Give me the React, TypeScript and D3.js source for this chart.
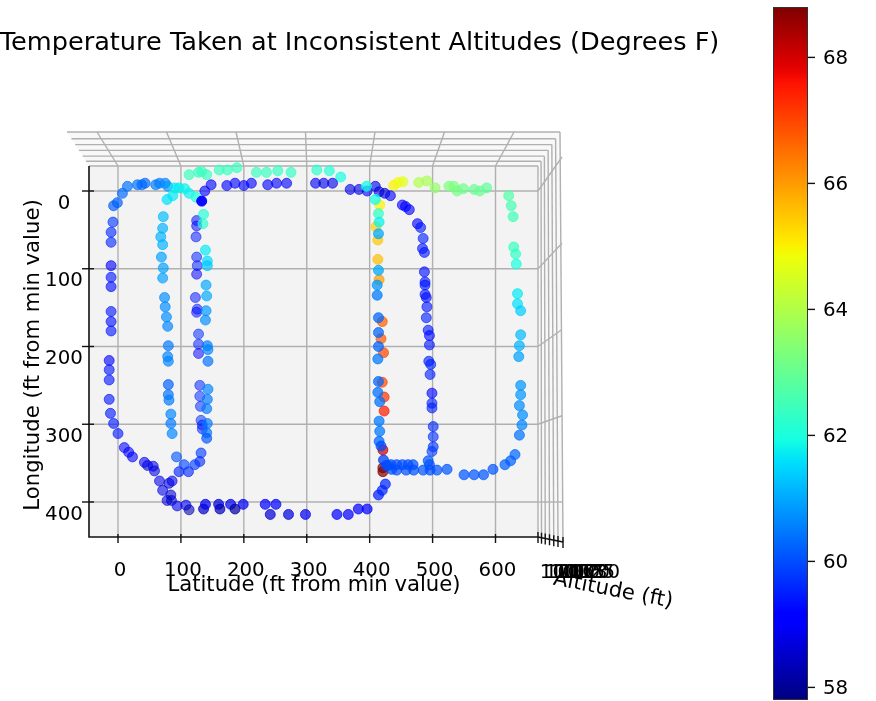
import React from 'react';
import * as d3 from 'd3';

// [latitude ft, longitude ft, temperature F], each leg flown at roughly one altitude
const leftArc = [[-7,19,60.2],[-1,15,60.2],[7,3,60.3],[15,-6,60.4],[31,-8,60.4],[38,-8,60.3],[43,-10,60.3],[60,-8,60.5],[66,-10,60.5],[75,-10,60.6],[79,-6,60.8]];
const cyanBend = [[87,6,61.7],[78,11,61.6],[90,-4,61.7],[97,-4,61.7],[106,-3,61.8],[113,3,61.8],[124,8,62]];
const greenTop = [[113,-21,62.4],[128,-24,62.4],[133,-25,62.4],[141,-21,62.4],[161,-27,62.4],[174,-27,62.4],[189,-30,62.4],[220,-24,62.4],[236,-24,62.4],[254,-26,62.3],[275,-24,62.3],[316,-27,62.2],[336,-26,62.1],[354,-18,61.9]];
const darkTop = [[138,0,59.2],[148,-8,59.2],[173,-7,59.2],[186,-10,59.1],[200,-7,59.1],[212,-10,59],[238,-8,59],[252,-10,59],[268,-10,59],[314,-10,58.9],[327,-10,58.8],[341,-10,58.8],[369,-2,58.8],[383,-2,58.8],[396,0,59],[409,-6,58.8],[415,1,58.7],[424,3,58.6],[433,6,59]];
const bendDown = [[452,18,59.1],[457,20,59],[463,24,59.1],[476,42,59],[481,47,59.4],[485,61,59.5],[484,74,59.4],[487,79,59.4],[487,104,59.3],[488,117,59.4],[488,121,59.4],[488,133,59.4],[490,137,59.3],[491,149,59.4],[490,163,59.5],[493,179,59.4],[495,186,59.3]];
const innerDark = [[495,198,59.4],[494,219,59.5],[497,223,59.5],[496,236,59.5],[499,260,59.2],[499,273,59.5],[499,279,59.5],[501,303,59.6],[501,316,59.7],[501,329,59.7],[499,335,59.8]];
const yellowTop = [[438,-7,65],[445,-11,64.9],[453,-12,64.7],[478,-11,64],[491,-13,63.9],[504,-4,63.6],[526,-6,63.3],[534,-6,63.3],[539,0,63.2],[549,-3,63.1],[566,-2,63],[575,0,63],[586,-4,62.9]];
const rightDown = [[621,6,62.7],[625,19,62.6],[628,33,62.5],[629,72,62.4],[632,81,62.3],[633,94,62],[635,132,61.7],[635,145,61.6],[640,154,61.4],[640,185,61.2],[638,199,61.1],[637,213,60.9],[640,250,60.8],[640,262,60.8],[638,276,60.7],[643,288,60.7],[642,301,60.6],[638,314,60.4]];
const rightBottom = [[631,339,60.3],[624,347,60.2],[615,352,60.2],[596,358,60.1],[581,365,60.1],[566,365,60.1],[550,365,60.1],[523,358,60.1],[507,359,60.1],[496,359,60],[495,352,60],[493,347,60.1],[485,359,60.1],[470,359,60],[469,352,60],[461,352,60],[458,359,60],[452,352,60],[443,352,60],[443,359,60],[435,358,60],[434,352,60],[429,353,60],[426,353,60]];
const leftColumn = [[-8,40,59.8],[-11,53,59.6],[-11,66,59.6],[-11,96,59],[-11,111,59.4],[-11,123,59.3],[-11,155,59.4],[-11,168,59.3],[-11,180,59.4],[-14,218,59],[-14,230,59.4],[-14,243,59.4],[-14,268,59.4],[-12,286,59.4],[-7,299,59.4],[0,312,59.4]];
const lowerLeft = [[10,330,59.2],[17,336,59],[23,342,59],[42,349,59],[47,353,58.7],[56,354,58.8],[58,360,58.7],[66,373,58.8],[71,385,58.8],[81,376,58.6],[86,373,58.9],[84,391,58.6],[78,398,58.7],[85,398,58.5],[94,405,58.9],[108,404,58.9],[113,410,58.3]];
const bottomRow = [[136,409,58.4],[139,403,58.9],[160,403,58.7],[162,409,58.3],[179,403,58.9],[186,409,58.1],[199,403,58.9],[234,403,59],[251,403,59],[242,416,58.6],[271,416,58.7],[298,416,58.9],[348,416,59],[366,416,59],[382,409,59.2],[396,409,59.2],[414,391,59.5],[420,385,59.6],[425,377,59.6]];
const columnTwo = [[72,33,61.2],[71,48,61.1],[68,59,61.1],[71,69,61.1],[69,85,60.9],[72,99,60.9],[71,112,60.9],[74,137,60.7],[75,149,60.7],[77,162,60.7],[79,174,60.6],[80,199,60.5],[79,213,60.6],[80,219,60.6],[80,249,60.2],[80,262,60.4],[81,269,60.5],[84,287,60.6],[84,299,60.5],[86,312,60.6]];
const columnThree = [[125,38,59.3],[125,45,59.2],[124,59,59.4],[125,85,59.5],[126,96,59.5],[125,107,59],[123,137,59.4],[126,152,59.4],[125,156,59.3],[128,184,59.6],[128,197,59.5],[128,209,59.2],[130,250,59.5],[130,264,59.6],[131,277,59.6],[132,295,59.7],[134,301,59.4],[134,306,59.5]];
const columnFour = [[136,30,62.1],[135,42,62.2],[139,76,61.7],[142,90,61.5],[142,96,61.3],[140,121,61],[141,135,61],[140,154,60.8],[139,166,60.7],[142,199,60.5],[143,204,60.6],[143,219,60.4],[143,255,60.6],[142,268,60.5],[141,280,60.5],[142,299,60.5],[141,311,60.4],[141,318,60.1]];
const uTurn = [[132,337,59.8],[130,348,59.6],[122,352,59.8],[112,361,59.6],[97,361,59.5],[105,352,59.9],[93,342,60.1]];
const turnMark = [[133,13,59.1]];
const centerWarm = [[416,18,65],[410,46,65.4],[413,63,65.5],[413,88,65.6],[415,114,66],[420,168,66.7],[418,190,66.8],[422,208,67],[420,246,67],[423,265,67.2],[423,283,67.5],[421,333,68.1],[421,356,68.7],[421,361,68.8]];
const centerCool = [[395,-6,61.9],[409,11,61.9],[414,29,62.4],[415,40,61.8],[414,55,61],[414,102,61],[412,121,60.8],[412,134,60.5],[414,163,60.3],[414,182,60.3],[414,200,60.3],[413,216,60.5],[414,245,60.3],[413,259,60.4],[416,271,60.4],[415,296,60.5],[416,309,60.5],[415,322,60.3],[418,328,60],[422,346,59.8]];

const legs = [greenTop, yellowTop, rightDown, leftColumn, columnThree, lowerLeft, darkTop, bendDown, centerWarm, centerCool, columnFour, columnTwo, innerDark, rightBottom, leftArc, cyanBend, uTurn, bottomRow, turnMark];
const legAltitudes = [1012, 1012, 1014, 1008, 1002, 1006, 1008, 1008, 1014, 1016, 1012, 1012, 1008, 1014, 1012, 1014, 1008, 1014, 1030];

const latTicks = [0, 100, 200, 300, 400, 500, 600];
const lonTicks = [0, 100, 200, 300, 400];
const altTicks = [1000, 1005, 1010, 1015, 1020, 1025, 1030];
const tempTicks = [58, 60, 62, 64, 66, 68];

const jetR = d3.scaleLinear([0, 0.35, 0.66, 0.89, 1], [0, 0, 1, 1, 0.5]).clamp(true);
const jetG = d3.scaleLinear([0, 0.125, 0.375, 0.64, 0.91, 1], [0, 0, 1, 1, 0, 0]).clamp(true);
const jetB = d3.scaleLinear([0, 0.11, 0.34, 0.65, 1], [0.5, 1, 1, 0, 0]).clamp(true);
const jet = (t: number) => d3.rgb(jetR(t) * 255, jetG(t) * 255, jetB(t) * 255).formatHex();

const norm = d3.scaleLinear([57.8, 68.8], [0, 1]).clamp(true);

const x = d3.scaleLinear([0, 600], [118, 495.5]);
const y = d3.scaleLinear([0, 400], [191, 502]);
// where an x tick lands on the far edge of the top wall
const xBack = d3.scaleLinear([0, 600], [97, 514]);
const yBack = d3.scaleLinear([0, 400], [157, 502]);
// one altitude step across the top and right walls
const wallT = d3.scaleLinear([1000, 1005, 1010, 1015, 1020, 1025, 1030], [0, 0.14, 0.29, 0.46, 0.63, 0.8, 1]);
const alpha = d3.scaleLinear([1000, 1030], [0.5, 0.95]);

const left = 89, right = 538, top = 166, bottom = 537;
const farLeft = 67, farRight = 560, farTop = 132, farBottom = 542;
const mix = (a: number, b: number, t: number) => a + (b - a) * t;

const grid = '#b0b0b0';
const font = 'DejaVu Sans';
const size = 19.8;
const labelSize = 21.2;

export default function App() {
  const stops = d3.range(0, 1.001, 1 / 64);
  return (
    <svg width={876} height={701} style={{ position: 'absolute', left: 0, top: 0, background: '#fff', filter: 'blur(0.4px)' }} fontFamily={font} fill="#000">
      <defs>
        <linearGradient id="jet" x1="0" y1="1" x2="0" y2="0">
          {stops.map(t => <stop key={t} offset={t} stopColor={jet(t)} />)}
        </linearGradient>
      </defs>

      <text x={359.5} y={50} fontSize={25.6} textAnchor="middle">Temperature Taken at Inconsistent Altitudes (Degrees F)</text>

      {/* panes */}
      <rect x={left} y={top} width={right - left} height={bottom - top} fill="#f3f3f3" />
      <polygon points={`${left},${top} ${farLeft},${farTop} ${farRight},${farTop} ${right},${top}`} fill="#f8f8f8" />
      <polygon points={`${right},${top} ${farRight},${farTop} ${farRight + 3},${farBottom} ${right},${bottom}`} fill="#f8f8f8" />

      {/* walls, altitude grid */}
      {altTicks.map(a => {
        const t = wallT(a);
        const lx = mix(left, farLeft, t), rx = mix(right, farRight, t), ty = mix(top, farTop, t);
        const bx = mix(right, farRight + 3, t), by = mix(bottom, farBottom, t);
        return (
          <g key={a} stroke={grid} strokeWidth={1.4} fill="none">
            <line x1={lx} x2={rx} y1={ty} y2={ty} />
            <line x1={rx} x2={bx} y1={ty} y2={by} />
          </g>
        );
      })}

      {/* lat and lon grid */}
      {latTicks.map(v => (
        <g key={v} stroke={grid} strokeWidth={1.4}>
          <line x1={x(v)} x2={x(v)} y1={top} y2={bottom} />
          <line x1={x(v)} x2={xBack(v)} y1={top} y2={farTop} />
        </g>
      ))}
      {lonTicks.map(v => (
        <g key={v} stroke={grid} strokeWidth={1.4}>
          <line x1={left} x2={right} y1={y(v)} y2={y(v)} />
          <line x1={right} x2={farRight + 2} y1={y(v)} y2={yBack(v)} />
          <line x1={left - 7} x2={left + 5} y1={y(v)} y2={y(v)} stroke="#111" />
        </g>
      ))}

      {/* axes */}
      <path d={`M${left},${top}V${bottom}H${right}L${farRight + 3},${farBottom}`} fill="none" stroke="#111" strokeWidth={1.6} />
      {latTicks.map(v => <line key={v} x1={x(v)} x2={x(v)} y1={bottom - 3} y2={bottom + 6} stroke="#111" strokeWidth={1.4} />)}
      {altTicks.map(a => {
        const t = wallT(a);
        const bx = mix(right, farRight + 3, t), by = mix(bottom, farBottom, t);
        return <line key={a} x1={bx} x2={bx} y1={by - 5} y2={by + 6} stroke="#111" strokeWidth={1.4} />;
      })}

      {/* points */}
      {legs.map((leg, i) => (
        <g key={i}>
          {leg.map((d, j) => (
            <circle key={j} cx={x(d[0])} cy={y(d[1])} r={5} fill={jet(norm(d[2]))} stroke={jet(norm(d[2]))} strokeWidth={1}
              fillOpacity={alpha(legAltitudes[i])} strokeOpacity={alpha(legAltitudes[i])} />
          ))}
        </g>
      ))}

      {/* tick labels */}
      {latTicks.map(v => <text key={v} x={x(v) + 2} y={576} fontSize={size} textAnchor="middle">{v}</text>)}
      {lonTicks.map(v => <text key={v} x={64} y={y(v) + 17.5} fontSize={size} textAnchor="middle">{v}</text>)}
      {altTicks.map((a, i) => <text key={a} x={565 + i * 5} y={578} fontSize={size} textAnchor="middle">{a}</text>)}

      {/* axis labels */}
      <text x={314} y={591} fontSize={labelSize} textAnchor="middle">Latitude (ft from min value)</text>
      <text transform="translate(39,355) rotate(-90)" fontSize={labelSize} textAnchor="middle">Longitude (ft from min value)</text>
      <text transform="translate(612,596) rotate(11)" fontSize={labelSize} textAnchor="middle">Altitude (ft)</text>

      {/* colorbar */}
      <rect x={773.5} y={7.5} width={34} height={692} fill="url(#jet)" stroke="#333" strokeWidth={1} />
      {tempTicks.map(t => {
        const cy = mix(700, 7, norm(t));
        return (
          <g key={t}>
            <line x1={808} x2={815} y1={cy} y2={cy} stroke="#111" strokeWidth={1.4} />
            <text x={823} y={cy + 7} fontSize={size}>{t}</text>
          </g>
        );
      })}
    </svg>
  );
}
